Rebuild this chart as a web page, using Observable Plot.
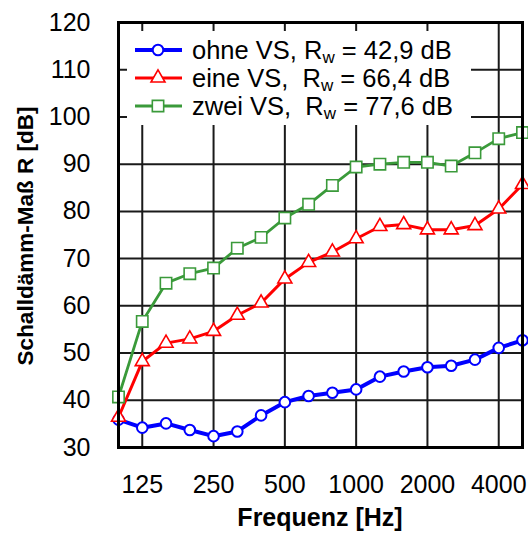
<!DOCTYPE html>
<html>
<head>
<meta charset="utf-8">
<script src="https://cdn.jsdelivr.net/npm/d3@7"></script>
<script src="https://cdn.jsdelivr.net/npm/@observablehq/plot@0.6"></script>
<style>
  html, body { margin: 0; padding: 0; background: #fff; }
  svg { font-family: "Liberation Sans", Arial, sans-serif; }
</style>
</head>
<body>
<div id="chart"></div>
<script>
const freqs = [100,125,160,200,250,315,400,500,630,800,1000,1250,1600,2000,2500,3150,4000,5000];
const tickFreqs = [125,250,500,1000,2000,4000];
const yTicks = [30,40,50,60,70,80,90,100,110,120];
const ohne = [35.9,34.2,35.1,33.7,32.4,33.4,36.8,39.6,40.9,41.6,42.3,45.0,46.1,47.0,47.3,48.6,51.1,52.7];
const eine = [36.4,48.2,52.1,53.0,54.6,58.0,60.6,65.7,69.2,71.4,74.2,76.8,77.2,76.1,76.1,77.0,80.5,85.7];
const zwei = [40.7,56.7,64.8,66.8,68.0,72.2,74.5,78.6,81.5,85.5,89.4,90.0,90.4,90.4,89.6,92.4,95.4,96.7];
const seriesNames = ["ohne VS", "eine VS", "zwei VS"];
const rwValues = ["42,9", "66,4", "77,6"];

const series = [
  {name: seriesNames[0], values: ohne, color: "#0000ff", symbol: "circle", r: 5.3, lw: 4, mw: 2},
  {name: seriesNames[1], values: eine, color: "#ff0000", symbol: "triangle", r: 5.2, lw: 3, mw: 1.6},
  {name: seriesNames[2], values: zwei, color: "#3a9a3a", symbol: "square", r: 6.4, lw: 2.8, mw: 1.6}
];

const marks = [
  Plot.ruleX(tickFreqs, {x: d => d, y1: 30, y2: 120, stroke: "#1a1a1a", strokeWidth: 2}),
  Plot.ruleY(yTicks.slice(1, -1), {y: d => d, stroke: "#1a1a1a", strokeWidth: 2})
];
for (const s of series) {
  const data = freqs.map((f, i) => ({f, v: s.values[i]}));
  marks.push(Plot.line(data, {x: "f", y: "v", stroke: s.color, strokeWidth: s.lw}));
  marks.push(Plot.dot(data, {x: "f", y: "v", symbol: () => s.symbol, r: s.r, stroke: s.color, strokeWidth: s.mw, fill: "white"}));
}
marks.push(Plot.frame({stroke: "black", strokeWidth: 3}));

const chart = Plot.plot({
  width: 528,
  height: 534,
  marginLeft: 118,
  marginRight: 6,
  marginTop: 22,
  marginBottom: 87,
  style: {fontSize: "25px", fontFamily: "Liberation Sans, Arial, sans-serif", color: "black", background: "white"},
  x: {type: "point", domain: freqs, padding: 0, round: false, ticks: tickFreqs, tickFormat: d => String(d), tickSize: 0, tickPadding: 28, label: null},
  y: {domain: [30, 120], ticks: yTicks, tickFormat: d => String(d), tickSize: 0, tickPadding: 28, label: null},
  marks
});
document.getElementById("chart").appendChild(chart);

const svg = d3.select(chart);
svg.selectAll("text").attr("font-size", 25).style("font-size", "25px").attr("fill", "black");

// axis titles
svg.append("text")
  .attr("x", 320).attr("y", 526)
  .attr("text-anchor", "middle")
  .attr("font-weight", "bold").style("font-size", "25px")
  .attr("fill", "black")
  .text("Frequenz [Hz]");
svg.append("text")
  .attr("transform", "translate(33,236) rotate(-90)")
  .attr("text-anchor", "middle")
  .attr("font-weight", "bold").style("font-size", "22.5px")
  .attr("fill", "black")
  .text("Schalldämm-Maß R [dB]");

// legend
const lg = svg.append("g").attr("text-anchor", "start");
lg.append("rect").attr("x", 127).attr("y", 31).attr("width", 344).attr("height", 94).attr("fill", "white").attr("stroke", "none");
series.forEach((s, i) => {
  const y = 50 + i * 28;
  lg.append("line").attr("x1", 135).attr("x2", 182).attr("y1", y).attr("y2", y)
    .attr("stroke", s.color).attr("stroke-width", s.lw);
  const sym = {circle: d3.symbolCircle, triangle: d3.symbolTriangle, square: d3.symbolSquare}[s.symbol];
  lg.append("path").attr("transform", `translate(158,${y})`)
    .attr("d", d3.symbol(sym, s.r * s.r * Math.PI)())
    .attr("fill", "white").attr("stroke", s.color).attr("stroke-width", s.mw);
  const t = lg.append("text").attr("x", 192).attr("y", y + 9)
    .attr("text-anchor", "start")
    .style("font-size", "25.5px").attr("fill", "black")
    .style("white-space", "pre");
  t.append("tspan").text(s.name + "," + (i === 0 ? " " : "  ") + "R");
  t.append("tspan").style("font-size", "17px").attr("dy", 4).text("w");
  t.append("tspan").attr("dy", -4).text(" = " + rwValues[i] + " dB");
});
</script>
</body>
</html>
